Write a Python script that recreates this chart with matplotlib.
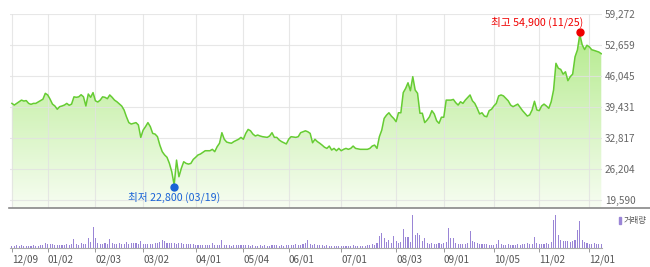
import numpy as np
import matplotlib.pyplot as plt
from matplotlib.colors import LinearSegmentedColormap
from matplotlib.lines import Line2D
from matplotlib.patches import Rectangle
from matplotlib.transforms import offset_copy

plt.rcParams['font.family'] = ['Noto Sans CJK KR', 'DejaVu Sans']

# trading-day index (0 = 2020-01-02) and closing price
price_days = [-15, -14, -13, -11, -10, -9, -8, -7, -6, -5, -4, -3, -2, -1, 0, 1, 2, 3, 4, 5,
              6, 7, 8, 9, 10, 11, 12, 13, 14, 15, 16, 17, 18, 19, 20, 21, 22, 23, 24, 25,
              26, 27, 28, 29, 31, 32, 33, 34, 35, 37, 38, 39, 40, 41, 42, 43, 44, 45, 46, 47,
              48, 49, 50, 51, 52, 53, 54, 55, 56, 57, 58, 59, 60, 61, 62, 63, 64, 66, 68, 69,
              70, 71, 72, 73, 74, 75, 76, 77, 78, 80, 81, 82, 83, 84, 85, 86, 87, 88, 89, 90,
              92, 93, 94, 95, 96, 97, 98, 99, 100, 101, 102, 104, 105, 106, 108, 109, 110, 111, 112, 113,
              114, 115, 116, 117, 118, 119, 120, 121, 122, 123, 124, 125, 126, 127, 128, 129, 131, 132, 134, 135,
              136, 137, 138, 139, 140, 141, 142, 143, 144, 145, 146, 147, 148, 149, 150, 151, 152, 153, 154, 155,
              156, 157, 158, 159, 160, 161, 162, 163, 164, 165, 166, 167, 169, 170, 171, 172, 173, 174, 175, 177,
              178, 179, 180, 181, 182, 183, 184, 185, 186, 187, 188, 189, 190, 191, 193, 194, 195, 197, 198, 199,
              201, 202, 203, 204, 205, 206, 207, 208, 209, 210, 211, 212, 213, 214, 215, 216, 217, 218, 219, 220,
              221, 222, 223, 224, 225, 226, 227, 228, 229, 231, 232]
prices = [40200, 39850, 40200, 40900, 40700, 40800, 40200, 40000, 40200, 40200, 40500, 40800, 41100, 42350, 42000, 41100, 40050, 39650, 38950, 39500,
          39650, 39850, 40200, 39800, 40050, 41600, 41500, 41600, 42050, 41600, 39650, 42200, 41500, 42500, 40750, 40500, 40900, 41600, 41500, 41200,
          42000, 41500, 40900, 40550, 39650, 38800, 37350, 36100, 35800, 36100, 35600, 32950, 34500, 35250, 36100, 35250, 33800, 33650, 33100, 31300,
          29900, 29200, 28700, 27400, 25600, 22800, 28100, 24550, 26350, 27750, 27400, 27250, 27400, 28250, 28700, 29200, 29400, 30100, 30100, 30400,
          29900, 30950, 31700, 33950, 32550, 31950, 31800, 31700, 32050, 32550, 32950, 32550, 33800, 34650, 34350, 33650, 33250, 33450, 33250, 33100,
          32950, 33250, 33950, 32950, 32950, 32400, 32050, 31800, 31550, 32550, 33100, 32950, 33100, 33950, 34350, 34150, 33800, 31800, 32550, 32050,
          31700, 31300, 30850, 30600, 31100, 30250, 30600, 30100, 30600, 30100, 30400, 30600, 30400, 30600, 31100, 30600, 30400, 30400, 30400, 30600,
          31100, 31300, 30600, 33100, 34500, 37000, 37700, 38200, 37500, 37000, 36300, 38200, 38200, 42500, 43400, 44600, 42900, 45900, 43050, 42350,
          38100, 38100, 36100, 36650, 37350, 38650, 37950, 36500, 35950, 37250, 37250, 40900, 40900, 41050, 40350, 39850, 40550, 40200, 40900, 42000,
          40750, 40200, 39150, 37950, 38200, 37500, 37350, 38650, 38950, 39650, 40200, 41800, 42000, 41800, 40750, 39850, 39500, 40050, 39350, 38650,
          37500, 37750, 38800, 40650, 38800, 38650, 39650, 40050, 39650, 39150, 40550, 43050, 48750, 47700, 47450, 46450, 46950, 45050, 45900, 46450,
          50150, 51600, 54900, 52700, 51700, 52600, 52250, 51650, 51500, 51150, 50800]

# daily volume (thousand shares), one value per trading day from 2019-12-09
vol_dec19 = [200, 250, 300, 250, 300, 250, 250, 200, 250, 300, 250, 250, 300, 350, 500]
vol_jan = [450, 400, 400, 350, 350, 300, 350, 300, 400, 350, 450, 900, 400, 350, 500, 400, 450, 1000, 600, 2100]
vol_feb = [1000, 500, 450, 400, 500, 450, 900, 500, 450, 400, 500, 450, 400, 600, 450, 500, 550, 500, 450, 700]
vol_mar = [450, 400, 450, 400, 450, 500, 550, 600, 800, 750, 500, 550, 500, 550, 450, 500, 550, 450, 400, 450, 400, 450]
vol_apr = [300, 350, 300, 350, 300, 300, 350, 500, 300, 350, 300, 800, 350, 300, 300, 250, 300, 350, 300, 300]
vol_may = [350, 300, 300, 250, 300, 250, 250, 300, 250, 300, 250, 250, 300, 350, 300, 250, 300, 250, 300]
vol_jun = [300, 350, 300, 450, 350, 300, 400, 500, 800, 450, 350, 400, 300, 350, 300, 250, 300, 250, 250, 200, 250, 250]
vol_jul = [250, 250, 200, 250, 250, 300, 250, 250, 250, 200, 250, 300, 300, 400, 350, 500, 1200, 1500, 1000, 600, 800, 500, 1200]
vol_aug = [700, 500, 600, 1900, 1100, 1100, 600, 3300, 1300, 1500, 1300, 700, 1000, 500, 400, 500, 450, 400, 500, 450]
vol_sep = [500, 600, 2000, 1000, 1000, 500, 400, 450, 400, 450, 500, 1700, 700, 600, 500, 450, 400, 450, 400, 350, 300]
vol_oct = [350, 400, 800, 400, 350, 300, 400, 350, 300, 350, 400, 350, 400, 450, 500, 400, 450, 1100, 500]
vol_nov = [400, 450, 400, 500, 450, 600, 2800, 3300, 1300, 800, 700, 750, 700, 600, 700, 800, 1800, 2700, 800, 600, 500]
vol_dec = [450, 400, 500, 450, 450, 400]

tick_days = [-15, 0, 20, 40, 62, 82, 101, 123, 146, 166, 187, 206, 227]
tick_labels = ['12/09', '01/02', '02/03', '03/02', '04/01', '05/04', '06/01',
               '07/01', '08/03', '09/01', '10/05', '11/02', '12/01']
price_ticks = [19590, 26204, 32817, 39431, 46045, 52659, 59272]

volumes = (vol_dec19 + vol_jan + vol_feb + vol_mar + vol_apr + vol_may + vol_jun
           + vol_jul + vol_aug + vol_sep + vol_oct + vol_nov + vol_dec)
vol_days = np.arange(-15, -15 + len(volumes))

W, H = 650, 267
fig = plt.figure(figsize=(W / 100, H / 100), dpi=100)

xlim = (-15.8, 232.3)
ylim = (17882, 59272)

# price panel
ax = fig.add_axes([10 / W, (H - 208) / H, 592 / W, 194 / H])
fill = ax.fill_between(price_days, prices, ylim[0], color='none', lw=0)
grad = np.linspace(0, 1, 256).reshape(-1, 1)
cmap = LinearSegmentedColormap.from_list('g', ['#f7fdf2', '#aee983'])
im = ax.imshow(grad, aspect='auto', cmap=cmap, origin='lower',
               extent=[xlim[0], xlim[1], ylim[0], ylim[1]], zorder=1)
im.set_clip_path(fill.get_paths()[0], transform=ax.transData)
ax.plot(price_days, prices, color='#66cc33', lw=1.1, zorder=3)

ax.set_xlim(*xlim)
ax.set_ylim(*ylim)
ax.set_xticks(tick_days)
ax.set_yticks(price_ticks)
ax.grid(True, color='#e2e2e2', lw=0.8, alpha=0.8, zorder=2)
ax.set_axisbelow(False)
ax.tick_params(axis='x', length=0, labelbottom=False)
ax.yaxis.tick_right()
ax.tick_params(axis='y', length=0, pad=2, labelsize=7.2, labelcolor='#666666')
ax.set_yticklabels([f'{v:,}' for v in price_ticks])
for s in ax.spines.values():
    s.set_visible(False)

# high / low markers
i_hi = int(np.argmax(prices))
i_lo = int(np.argmin(prices))
ax.plot(price_days[i_hi], prices[i_hi], 'o', ms=5, color='#f00000', zorder=4,
        transform=offset_copy(ax.transData, fig=fig, y=2.5, units='dots'))
ax.plot(price_days[i_lo], prices[i_lo], 'o', ms=5, color='#1a63d6', zorder=4,
        transform=offset_copy(ax.transData, fig=fig, y=-2.5, units='dots'))
ax.annotate(f'최고 {prices[i_hi]:,} (11/25)', (price_days[i_hi], prices[i_hi]),
            xytext=(2.5, 9), textcoords='offset points', ha='right', va='center',
            fontsize=7.7, color='#f00000')
ax.annotate(f'최저 {prices[i_lo]:,} (03/19)', (price_days[i_lo], prices[i_lo]),
            xytext=(0, -9), textcoords='offset points', ha='center', va='center',
            fontsize=7.7, color='#1a63d6')

# volume panel
ax2 = fig.add_axes([10 / W, (H - 248) / H, 592 / W, 38 / H])
ax2.bar(vol_days, volumes, width=0.45, color='#9a85d6', lw=0)
ax2.set_xlim(*xlim)
ax2.set_ylim(0, 3800)
ax2.set_yticks([])
ax2.set_xticks(tick_days)
ax2.set_xticklabels(tick_labels)
for lab in ax2.get_xticklabels():
    lab.set_ha('left')
ax2.tick_params(axis='x', length=3, width=0.7, color='#999999', pad=1.5,
                labelsize=7.2, labelcolor='#555555')
for k in ['top', 'left', 'right']:
    ax2.spines[k].set_visible(False)
ax2.spines['bottom'].set_color('#aaaaaa')
ax2.spines['bottom'].set_linewidth(0.8)

# separator between panels
fig.add_artist(Line2D([9 / W, 1.0], [(H - 208) / H] * 2, color='#888888', lw=1.2))

# volume legend
fig.add_artist(Rectangle((618.5 / W, (H - 224) / H), 2.2 / W, 7.5 / H,
                         color='#9a85d6', transform=fig.transFigure))
fig.text(623.5 / W, (H - 220) / H, '거래량', fontsize=6, color='#555555',
         ha='left', va='center')

fig.savefig('out.png', dpi=100)
